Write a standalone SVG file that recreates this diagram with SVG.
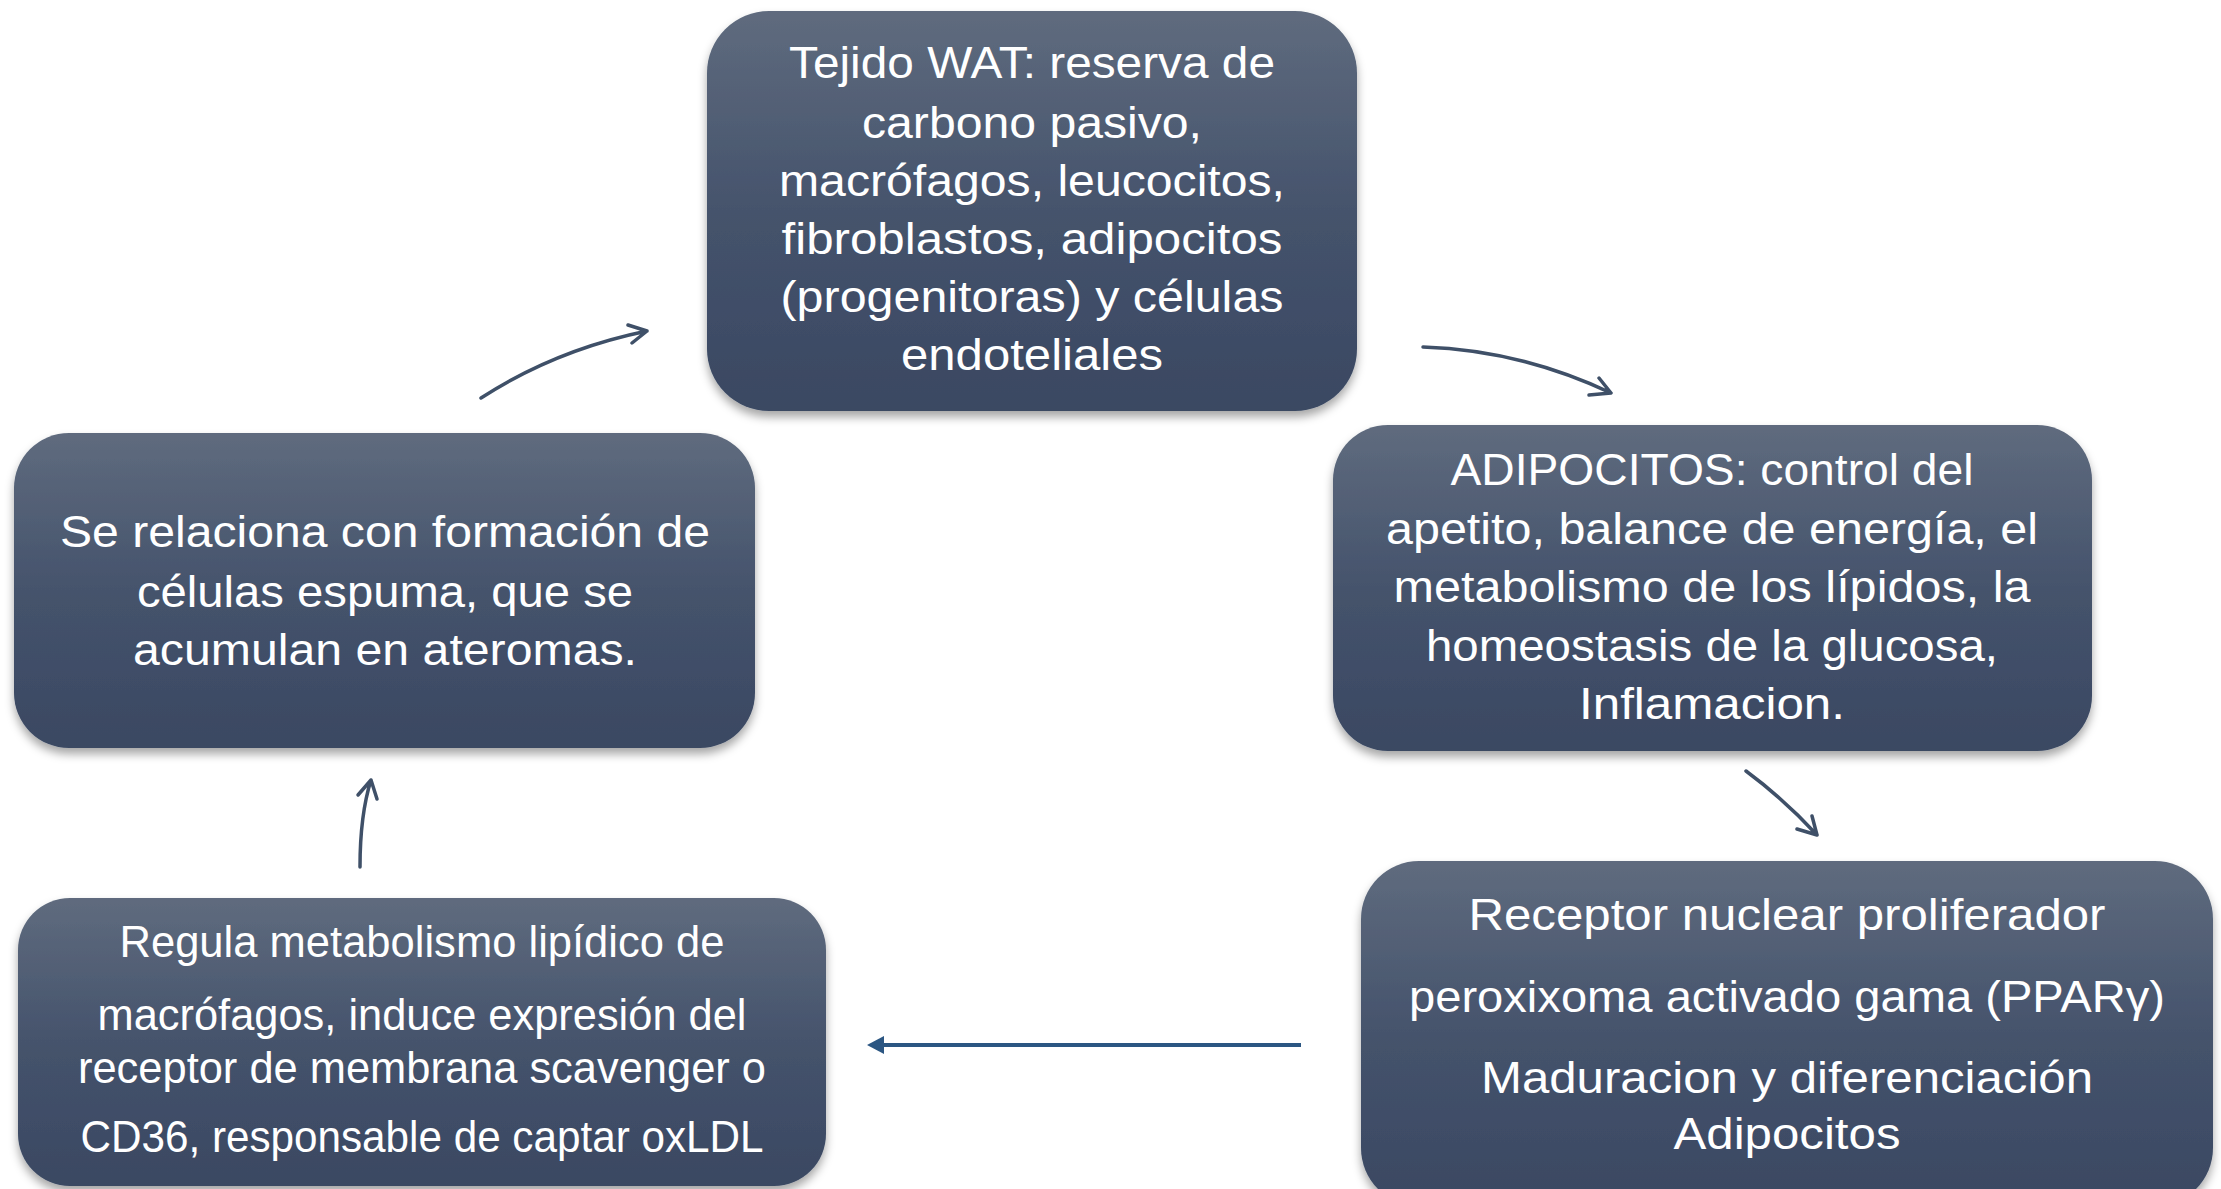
<svg xmlns="http://www.w3.org/2000/svg" width="2221" height="1189" viewBox="0 0 2221 1189">
<style>
.box{fill:url(#g);filter:url(#sh);}
.t{fill:#ffffff;font-family:"Liberation Sans",Arial,sans-serif;font-size:44px;text-anchor:middle;}
.c{fill:none;stroke:#3f5068;stroke-width:3.5;stroke-linecap:round;stroke-linejoin:round;}
</style>
<defs>
<linearGradient id="g" x1="0" y1="0" x2="0" y2="1">
<stop offset="0" stop-color="#5f6b7e"/>
<stop offset="0.5" stop-color="#45536c"/>
<stop offset="1" stop-color="#3a4862"/>
</linearGradient>
<filter id="sh" x="-10%" y="-10%" width="120%" height="130%">
<feDropShadow dx="0" dy="6" stdDeviation="5" flood-color="#000" flood-opacity="0.35"/>
</filter>
</defs>
<g id="connectors">
<path class="c" d="M481,398 Q555,350 647,331 M628,325 L647,331 L632,343"/>
<path class="c" d="M1423,347 Q1520,350 1611,393 M1599,378 L1611,393 L1589,395"/>
<path class="c" d="M1746,771 Q1785,800 1817,835 M1812,816 L1817,835 L1797,829"/>
<path class="c" d="M360,867 Q360,815 371,780 M358,795 L371,780 L377,799"/>
<line x1="1301" y1="1045" x2="883" y2="1045" stroke="#2b5682" stroke-width="4"/>
<path d="M867,1045 L884,1036 L884,1054 Z" fill="#2b5682"/>
</g>
<g id="n-tejido">
<rect class="box" x="707" y="11" width="650" height="400" rx="62" ry="62"/>
<text class="t" x="1032" y="78" textLength="486" lengthAdjust="spacingAndGlyphs">Tejido WAT: reserva de</text>
<text class="t" x="1032" y="138" textLength="340" lengthAdjust="spacingAndGlyphs">carbono pasivo,</text>
<text class="t" x="1032" y="196" textLength="506" lengthAdjust="spacingAndGlyphs">macrófagos, leucocitos,</text>
<text class="t" x="1032" y="254" textLength="501" lengthAdjust="spacingAndGlyphs">fibroblastos, adipocitos</text>
<text class="t" x="1032" y="312" textLength="503" lengthAdjust="spacingAndGlyphs">(progenitoras) y células</text>
<text class="t" x="1032" y="370" textLength="262" lengthAdjust="spacingAndGlyphs">endoteliales</text>
</g>
<g id="n-adipocitos">
<rect class="box" x="1333" y="425" width="759" height="326" rx="55" ry="55"/>
<text class="t" x="1712" y="485" textLength="523" lengthAdjust="spacingAndGlyphs">ADIPOCITOS: control del</text>
<text class="t" x="1712" y="544" textLength="652" lengthAdjust="spacingAndGlyphs">apetito, balance de energía, el</text>
<text class="t" x="1712" y="602" textLength="637" lengthAdjust="spacingAndGlyphs">metabolismo de los lípidos, la</text>
<text class="t" x="1712" y="661" textLength="572" lengthAdjust="spacingAndGlyphs">homeostasis de la glucosa,</text>
<text class="t" x="1712" y="719" textLength="266" lengthAdjust="spacingAndGlyphs">Inflamacion.</text>
</g>
<g id="n-ppar">
<rect class="box" x="1361" y="861" width="852" height="345" rx="58" ry="58"/>
<text class="t" x="1787" y="930" textLength="637" lengthAdjust="spacingAndGlyphs">Receptor nuclear proliferador</text>
<text class="t" x="1787" y="1012" textLength="756" lengthAdjust="spacingAndGlyphs">peroxixoma activado gama (PPARγ)</text>
<text class="t" x="1787" y="1093" textLength="612" lengthAdjust="spacingAndGlyphs">Maduracion y diferenciación</text>
<text class="t" x="1787" y="1149" textLength="227" lengthAdjust="spacingAndGlyphs">Adipocitos</text>
</g>
<g id="n-regula">
<rect class="box" x="18" y="898" width="808" height="288" rx="52" ry="52"/>
<text class="t" x="422" y="957" textLength="605" lengthAdjust="spacingAndGlyphs">Regula metabolismo lipídico de</text>
<text class="t" x="422" y="1030" textLength="649" lengthAdjust="spacingAndGlyphs">macrófagos, induce expresión del</text>
<text class="t" x="422" y="1083" textLength="688" lengthAdjust="spacingAndGlyphs">receptor de membrana scavenger o</text>
<text class="t" x="422" y="1152" textLength="683" lengthAdjust="spacingAndGlyphs">CD36, responsable de captar oxLDL</text>
</g>
<g id="n-espuma">
<rect class="box" x="14" y="433" width="741" height="315" rx="55" ry="55"/>
<text class="t" x="385" y="547" textLength="650" lengthAdjust="spacingAndGlyphs">Se relaciona con formación de</text>
<text class="t" x="385" y="607" textLength="496" lengthAdjust="spacingAndGlyphs">células espuma, que se</text>
<text class="t" x="385" y="665" textLength="504" lengthAdjust="spacingAndGlyphs">acumulan en ateromas.</text>
</g>
</svg>
